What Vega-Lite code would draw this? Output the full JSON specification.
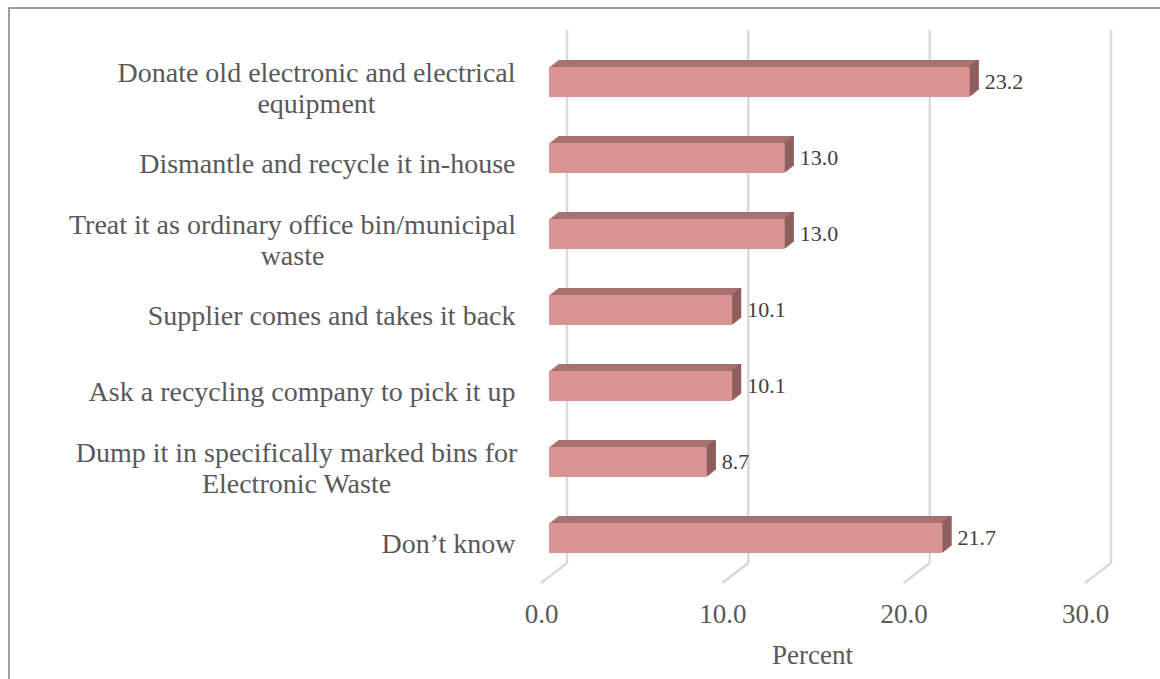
{
  "$schema": "https://vega.github.io/schema/vega-lite/v6.json",
  "width": 1153,
  "height": 673,
  "autosize": {"type": "none"},
  "padding": {"left": 9, "top": 8, "right": -2, "bottom": -2},
  "background": "white",
  "config": {
    "view": {"stroke": "#7f7f7f", "strokeWidth": 1.5},
    "font": "Liberation Serif"
  },
  "datasets": {
    "responses": [
      {"option": "Donate old electronic and electrical equipment", "percent": 23.2},
      {"option": "Dismantle and recycle it in-house", "percent": 13.0},
      {"option": "Treat it as ordinary office bin/municipal waste", "percent": 13.0},
      {"option": "Supplier comes and takes it back", "percent": 10.1},
      {"option": "Ask a recycling company to pick it up", "percent": 10.1},
      {"option": "Dump it in specifically marked bins for Electronic Waste", "percent": 8.7},
      {"option": "Don’t know", "percent": 21.7}
    ],
    "ticks": [{"tick": 0}, {"tick": 10}, {"tick": 20}, {"tick": 30}]
  },
  "resolve": {"scale": {"y": "independent"}},
  "layer": [
    {
      "data": {"name": "ticks"},
      "encoding": {
        "x": {"field": "tick", "type": "quantitative",
              "scale": {"domain": [0, 30], "range": [540, 1084], "nice": false, "zero": true},
              "axis": {
                "title": "Percent", "values": [0, 10, 20, 30], "format": ".1f",
                "domain": false, "ticks": false, "tickSize": 0, "grid": false,
                "offset": -118, "labelPadding": 38, "labelOffset": -8, "labelFlush": false,
                "labelFont": "Liberation Serif", "labelFontSize": 27, "labelColor": "#595959",
                "titleFont": "Liberation Serif", "titleFontSize": 27, "titleFontWeight": "normal", "titleColor": "#595959",
                "titleX": 803, "titleY": 79, "titleBaseline": "top"
              }},
        "x2": {"field": "tick"}
      },
      "layer": [
        {
          "mark": {"type": "rule", "color": "#d9d9d9", "strokeWidth": 2.5, "xOffset": 18, "x2Offset": 18},
          "encoding": {
            "y": {"datum": 1, "type": "quantitative", "scale": {"domain": [0, 1], "range": [555, 22]}, "axis": null},
            "y2": {"datum": 0}
          }
        },
        {
          "mark": {"type": "rule", "color": "#d9d9d9", "strokeWidth": 2.5, "xOffset": 18, "x2Offset": -8, "y2Offset": 20},
          "encoding": {
            "y": {"datum": 0, "type": "quantitative", "scale": {"domain": [0, 1], "range": [555, 22]}, "axis": null},
            "y2": {"datum": 0}
          }
        }
      ]
    },
    {
      "data": {"name": "responses"},
      "encoding": {
        "y": {"field": "option", "type": "nominal", "sort": null,
              "scale": {"range": [36, 568], "paddingInner": 0.6053, "paddingOuter": 0.3026},
              "axis": {
                "title": null, "domain": false, "ticks": false, "tickSize": 0, "grid": false,
                "offset": -506, "labelLimit": 0,
                "labelFont": "Liberation Serif", "labelFontSize": 28, "labelColor": "#595959",
                "labelLineHeight": 31,
                "labelExpr": "datum.value == 'Donate old electronic and electrical equipment' ? ['Donate old electronic and electrical', 'equipment'] : datum.value == 'Treat it as ordinary office bin/municipal waste' ? ['Treat it as ordinary office bin/municipal', 'waste'] : datum.value == 'Dump it in specifically marked bins for Electronic Waste' ? ['Dump it in specifically marked bins for', 'Electronic Waste'] : datum.value",
                "labelAlign": {"condition": {"test": "indexof(['Donate old electronic and electrical equipment','Treat it as ordinary office bin/municipal waste','Dump it in specifically marked bins for Electronic Waste'], datum.value) >= 0", "value": "center"}, "value": "right"},
                "labelOffset": {"condition": {"test": "indexof(['Donate old electronic and electrical equipment','Treat it as ordinary office bin/municipal waste','Dump it in specifically marked bins for Electronic Waste'], datum.value) >= 0", "value": -8}, "value": 7},
                "labelPadding": {"condition": [
                  {"test": "datum.value == 'Donate old electronic and electrical equipment'", "value": 199},
                  {"test": "datum.value == 'Treat it as ordinary office bin/municipal waste'", "value": 223},
                  {"test": "datum.value == 'Dump it in specifically marked bins for Electronic Waste'", "value": 219}
                ], "value": 0}
              }},
        "x": {"field": "percent", "type": "quantitative",
              "scale": {"domain": [0, 30], "range": [540, 1084], "nice": false, "zero": true},
              "axis": {
                "title": "Percent", "values": [0, 10, 20, 30], "format": ".1f",
                "domain": false, "ticks": false, "tickSize": 0, "grid": false,
                "offset": -118, "labelPadding": 38, "labelOffset": -8, "labelFlush": false,
                "labelFont": "Liberation Serif", "labelFontSize": 27, "labelColor": "#595959",
                "titleFont": "Liberation Serif", "titleFontSize": 27, "titleFontWeight": "normal", "titleColor": "#595959",
                "titleX": 803, "titleY": 79, "titleBaseline": "top"
              }}
      },
      "layer": [
        {"mark": {"type": "bar", "color": "#a6716e", "xOffset": 1.5, "x2Offset": 1.5, "yOffset": -1.17, "y2Offset": -1.17}},
        {"mark": {"type": "bar", "color": "#a6716e", "xOffset": 3, "x2Offset": 3, "yOffset": -2.33, "y2Offset": -2.33}},
        {"mark": {"type": "bar", "color": "#a6716e", "xOffset": 4.5, "x2Offset": 4.5, "yOffset": -3.5, "y2Offset": -3.5}},
        {"mark": {"type": "bar", "color": "#a6716e", "xOffset": 6, "x2Offset": 6, "yOffset": -4.67, "y2Offset": -4.67}},
        {"mark": {"type": "bar", "color": "#a6716e", "xOffset": 7.5, "x2Offset": 7.5, "yOffset": -5.83, "y2Offset": -5.83}},
        {"mark": {"type": "bar", "color": "#a6716e", "xOffset": 9, "x2Offset": 9, "yOffset": -7, "y2Offset": -7}},
        {"mark": {"type": "bar", "color": "#8e5f5d", "xOffset": 1.5, "x2Offset": -0.5, "yOffset": -1.17, "y2Offset": -1.17}, "encoding": {"x2": {"field": "percent"}}},
        {"mark": {"type": "bar", "color": "#8e5f5d", "xOffset": 3, "x2Offset": 1, "yOffset": -2.33, "y2Offset": -2.33}, "encoding": {"x2": {"field": "percent"}}},
        {"mark": {"type": "bar", "color": "#8e5f5d", "xOffset": 4.5, "x2Offset": 2.5, "yOffset": -3.5, "y2Offset": -3.5}, "encoding": {"x2": {"field": "percent"}}},
        {"mark": {"type": "bar", "color": "#8e5f5d", "xOffset": 6, "x2Offset": 4, "yOffset": -4.67, "y2Offset": -4.67}, "encoding": {"x2": {"field": "percent"}}},
        {"mark": {"type": "bar", "color": "#8e5f5d", "xOffset": 7.5, "x2Offset": 5.5, "yOffset": -5.83, "y2Offset": -5.83}, "encoding": {"x2": {"field": "percent"}}},
        {"mark": {"type": "bar", "color": "#8e5f5d", "xOffset": 9, "x2Offset": 7, "yOffset": -7, "y2Offset": -7}, "encoding": {"x2": {"field": "percent"}}},
        {"mark": {"type": "bar", "color": "#d99594"}},
        {
          "mark": {"type": "text", "align": "left", "baseline": "middle", "dx": 15, "font": "Liberation Serif", "fontSize": 22, "color": "#404040"},
          "encoding": {"text": {"field": "percent", "type": "quantitative", "format": ".1f"}}
        }
      ]
    }
  ]
}
